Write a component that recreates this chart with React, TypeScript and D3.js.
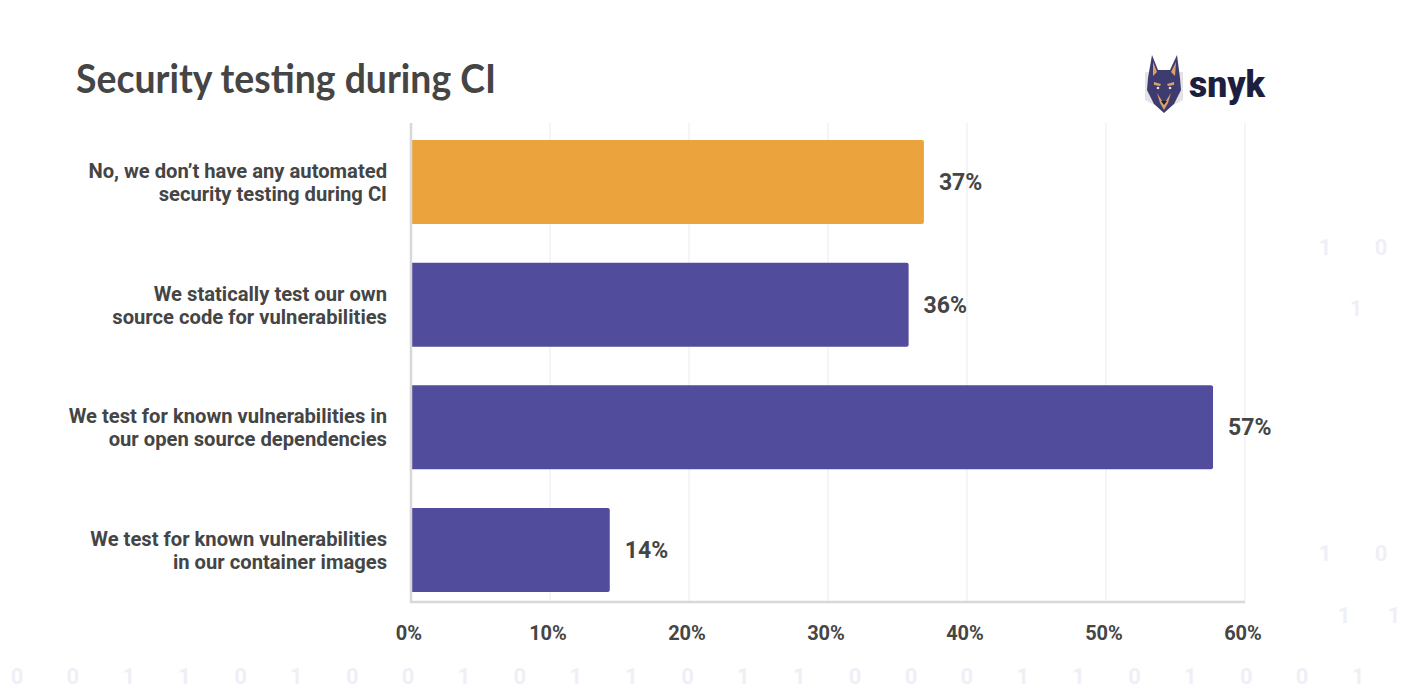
import React from "react";
import * as d3 from "d3";

const categories: string[][] = [
  ["No, we don’t have any automated", "security testing during CI"],
  ["We statically test our own", "source code for vulnerabilities"],
  ["We test for known vulnerabilities in", "our open source dependencies"],
  ["We test for known vulnerabilities", "in our container images"],
];
const values: number[] = [36.9, 35.8, 57.7, 14.3];
const valueLabels: string[] = ["37%", "36%", "57%", "14%"];
const barColors: string[] = ["#EBA43D", "#524C9C", "#524C9C", "#524C9C"];
const ticks: number[] = [0, 10, 20, 30, 40, 50, 60];
const bottomDigits: string[] = "0011010010110110001101001".split("");
const sideDigits: { t: string; x: number; y: number }[] = [
  { t: "1", x: 1325, y: 255 },
  { t: "0", x: 1381, y: 255 },
  { t: "1", x: 1356, y: 316 },
  { t: "1", x: 1325, y: 561 },
  { t: "0", x: 1381, y: 561 },
  { t: "1", x: 1344, y: 623 },
  { t: "1", x: 1394, y: 623 },
];

const W = 1402;
const H = 688;

export default function App() {
  const x = d3.scaleLinear().domain([0, 60]).range([411, 1245]);
  const y = d3
    .scaleBand<number>()
    .domain(d3.range(categories.length))
    .range([140, 592])
    .paddingInner(0.315)
    .paddingOuter(0);
  const bw = y.bandwidth();
  const font = "Roboto, 'Noto Sans', sans-serif";
  const textColor = "#454545";
  const digitX = d3.scaleLinear().domain([0, 24]).range([17, 1358]);

  return (
    <svg
      width={W}
      height={H}
      style={{ position: "absolute", left: 0, top: 0, background: "#fff" }}
    >
      <rect width={W} height={H} fill="#fff" />
      {/* background binary digits */}
      <g fill="#EFEFF7" fontFamily={font} fontWeight={700} fontSize={22} textAnchor="middle">
        {bottomDigits.map((d, i) => (
          <text key={"b" + i} x={digitX(i)} y={684}>
            {d}
          </text>
        ))}
        {sideDigits.map((d, i) => (
          <text key={"s" + i} x={d.x} y={d.y}>
            {d.t}
          </text>
        ))}
      </g>

      {/* title */}
      <text
        x={76}
        y={93}
        fontFamily="Lato, 'Open Sans', sans-serif"
        fontWeight={700}
        fontSize={40}
        fill="#454545"
        textLength={420}
        lengthAdjust="spacingAndGlyphs"
      >
        Security testing during CI
      </text>

      {/* logo */}
      <g>
        <path
          d="M1145,72 L1183,72 L1183,100 Q1164,112 1145,100 Z"
          fill="#E3E3E6"
        />
        <path
          d="M1152,55 L1158,70 L1170,70 L1177,55 L1180,78 L1181,90 L1174,104 L1164,113 L1154,104 L1147,90 L1148,78 Z"
          fill="#3E3B6E"
        />
        <path d="M1153,62 L1157,72 L1153,76 Z" fill="#D9A06B" />
        <path d="M1176,62 L1171,72 L1175,76 Z" fill="#D9A06B" />
        <path d="M1154,82 L1161,84 L1160,86 L1154,85 Z" fill="#D9A06B" />
        <path d="M1174,82 L1167,84 L1168,86 L1174,85 Z" fill="#D9A06B" />
        <path d="M1157,93 L1164,104 L1171,93 L1168,103 L1164,110 L1160,103 Z" fill="#D9A06B" />
        <circle cx={1158} cy={88} r={1.3} fill="#E8E2D0" />
        <circle cx={1170} cy={88} r={1.3} fill="#E8E2D0" />
        <path d="M1161,101 L1167,101 L1164,105 Z" fill="#1E1D3A" />
        <text
          x={1189}
          y={97}
          fontFamily={font}
          fontWeight={900}
          fontSize={36}
          fill="#1E1F3E"
          textLength={76}
          lengthAdjust="spacingAndGlyphs"
        >
          snyk
        </text>
      </g>

      {/* gridlines */}
      <g stroke="#F2F2F4" strokeWidth={1.5}>
        {ticks
          .filter((t) => t > 0)
          .map((t) => (
            <line key={t} x1={x(t)} x2={x(t)} y1={123} y2={602} />
          ))}
      </g>

      {/* bars */}
      {values.map((v, i) => (
        <g key={i}>
          <path
            d={`M${x(0)},${y(i)!} H${x(v) - 2} Q${x(v)},${y(i)!} ${x(v)},${y(i)! + 2} V${
              y(i)! + bw - 2
            } Q${x(v)},${y(i)! + bw} ${x(v) - 2},${y(i)! + bw} H${x(0)} Z`}
            fill={barColors[i]}
          />
          <text
            x={x(v) + 15}
            y={y(i)! + bw / 2 + 8}
            fontFamily={font}
            fontWeight={700}
            fontSize={23}
            fill={textColor}
          >
            {valueLabels[i]}
          </text>
          {categories[i].map((line, j) => (
            <text
              key={j}
              x={387}
              y={y(i)! + bw / 2 - 4 + j * 23}
              textAnchor="end"
              fontFamily={font}
              fontWeight={700}
              fontSize={20.2}
              fill={textColor}
            >
              {line}
            </text>
          ))}
        </g>
      ))}

      {/* axes */}
      <line x1={x(0)} x2={x(0)} y1={123} y2={603} stroke="#D8D8D8" strokeWidth={2.5} />
      <line x1={x(0) - 1} x2={x(60)} y1={602} y2={602} stroke="#D8D8D8" strokeWidth={2.5} />
      <g fontFamily={font} fontWeight={700} fontSize={20} fill={textColor} textAnchor="middle">
        {ticks.map((t) => (
          <text key={t} x={x(t) - 2} y={640}>
            {t + "%"}
          </text>
        ))}
      </g>
    </svg>
  );
}
